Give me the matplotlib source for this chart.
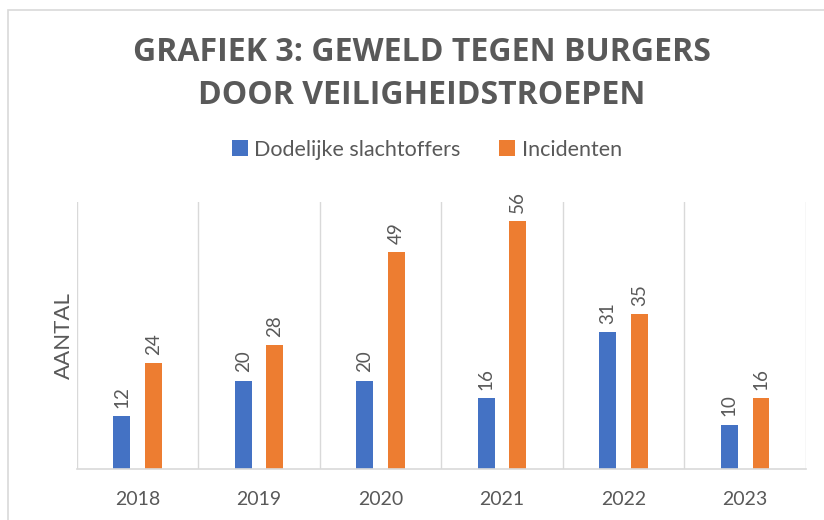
import numpy as np
import matplotlib.pyplot as plt
from matplotlib.patches import Rectangle

# data
jaren = ["2018", "2019", "2020", "2021", "2022", "2023"]
dodelijk = [12, 20, 20, 16, 31, 10]
incidenten = [24, 28, 49, 56, 35, 16]

blauw = "#4472C4"
oranje = "#ED7D31"
grijs = "#595959"
lijn = "#D9D9D9"

plt.rcParams['font.family'] = ['Lato', 'DejaVu Sans']

fig = plt.figure(figsize=(8.24, 5.2), dpi=100)
ax = fig.add_axes([0.0931, 0.098, 0.8848, 0.5135])

# kader om de grafiek
fig.patches.append(Rectangle((8 / 824, -0.1), 1.2, 1 - 10 / 520 + 0.1,
                             transform=fig.transFigure, fill=False,
                             edgecolor=lijn, linewidth=1.2))

x = np.arange(len(jaren))
w = 0.137
off = 0.13
b1 = ax.bar(x - off, dodelijk, w, color=blauw, label="Dodelijke slachtoffers")
b2 = ax.bar(x + off, incidenten, w, color=oranje, label="Incidenten")

for bars in (b1, b2):
    ax.bar_label(bars, padding=6, rotation=90, color=grijs, fontsize=13.5)

ax.set_xlim(-0.5, len(jaren) - 0.5)
ax.set_ylim(0, 60.4)

# scheidingslijnen tussen de jaren
for i in range(len(jaren) + 1):
    ax.axvline(i - 0.5, color=lijn, linewidth=1, zorder=0)

for s in ["top", "right", "left"]:
    ax.spines[s].set_visible(False)
ax.spines["bottom"].set_color(lijn)
ax.spines["bottom"].set_linewidth(1.2)

ax.set_yticks([])
ax.set_xticks(x)
ax.set_xticklabels(jaren, fontsize=14, color=grijs)
ax.tick_params(axis="x", length=0, pad=16)
ax.set_ylabel("AANTAL", fontsize=16, color=grijs, labelpad=2)

fig.text(0.512, 0.858, "GRAFIEK 3: GEWELD TEGEN BURGERS\nDOOR VEILIGHEIDSTROEPEN",
         ha="center", va="center", fontsize=23, fontweight="bold", color=grijs,
         linespacing=1.4, family=['Open Sans', 'DejaVu Sans'])

fig.legend(handles=[b1, b2], loc="center", bbox_to_anchor=(0.518, 0.712),
           ncol=2, frameon=False, fontsize=15.5, handlelength=0.75, handleheight=0.75,
           handletextpad=0.3, columnspacing=1.8, labelcolor=grijs)

fig.savefig("out.png", dpi=100)
